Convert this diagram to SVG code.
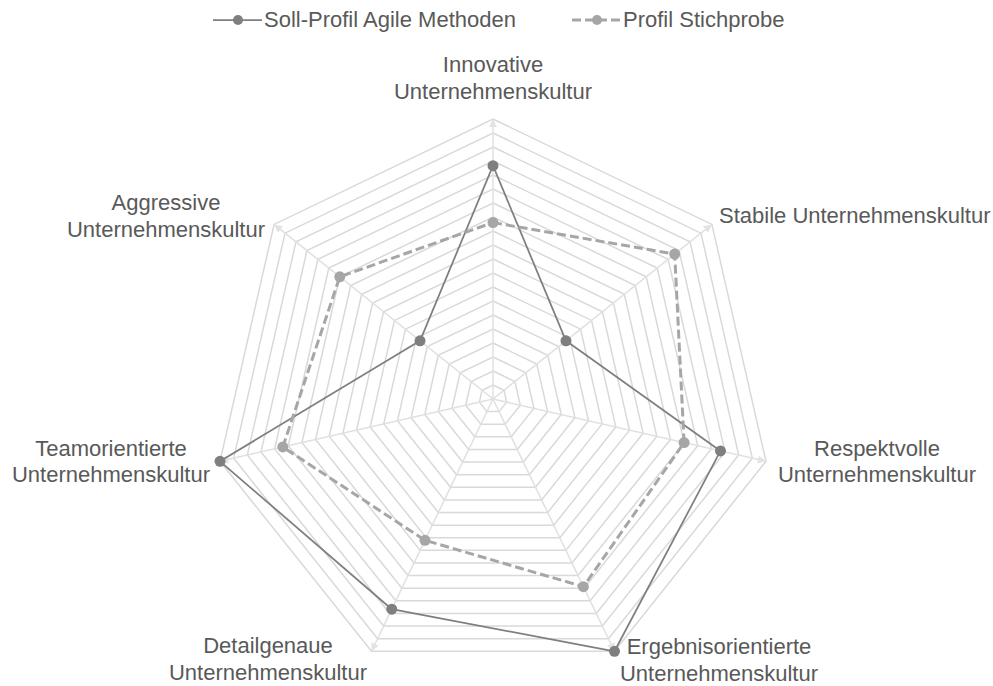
<svg xmlns="http://www.w3.org/2000/svg" xmlns:xlink="http://www.w3.org/1999/xlink" width="993" height="686" viewBox="0 0 993 686">
  <style>
    .lbl { font-family: "Liberation Sans", Arial, sans-serif; font-size: 22px; fill: #595959; }
    .ring { fill: none; stroke: #d9d9d9; stroke-width: 1.5; vector-effect: non-scaling-stroke; }
    .spoke { stroke: #e0e0e0; stroke-width: 1.5; }
    .soll { fill: none; stroke: #7f7f7f; stroke-width: 1.75; stroke-linejoin: round; }
    .soll-dot { fill: #7f7f7f; }
    .probe { fill: none; stroke: #a6a6a6; stroke-width: 3; stroke-dasharray: 9 4; stroke-linejoin: round; }
    .probe-dot { fill: #a6a6a6; }
  </style>
  <defs>
    <!-- outer heptagon, radius 280, centred on the origin -->
    <polygon id="hept" class="ring" points="0,-280 218.913,-174.577 272.980,62.306 121.488,252.271 -121.488,252.271 -272.980,62.306 -218.913,-174.577"/>
    <marker id="tip" viewBox="0 0 10 10" refX="10" refY="5" markerWidth="5.5" markerHeight="5.5" orient="auto" markerUnits="strokeWidth">
      <path d="M0,0 L10,5 L0,10 Z" fill="#e3e3e3"/>
    </marker>
  </defs>
  <rect width="993" height="686" fill="#ffffff"/>

  <!-- legend -->
  <g id="legend">
    <line x1="213" y1="20" x2="262" y2="20" class="soll"/>
    <circle cx="238" cy="20" r="5" class="soll-dot"/>
    <text x="264" y="27" class="lbl">Soll-Profil Agile Methoden</text>
    <line x1="572" y1="20" x2="621" y2="20" class="probe" stroke-dasharray="8 4"/>
    <circle cx="597" cy="20" r="5" class="probe-dot"/>
    <text x="623" y="27" class="lbl">Profil Stichprobe</text>
  </g>

  <!-- radar grid: 20 concentric heptagons -->
  <g id="grid" transform="translate(493 399)">
    <use xlink:href="#hept" transform="scale(0.05)"/>
    <use xlink:href="#hept" transform="scale(0.10)"/>
    <use xlink:href="#hept" transform="scale(0.15)"/>
    <use xlink:href="#hept" transform="scale(0.20)"/>
    <use xlink:href="#hept" transform="scale(0.25)"/>
    <use xlink:href="#hept" transform="scale(0.30)"/>
    <use xlink:href="#hept" transform="scale(0.35)"/>
    <use xlink:href="#hept" transform="scale(0.40)"/>
    <use xlink:href="#hept" transform="scale(0.45)"/>
    <use xlink:href="#hept" transform="scale(0.50)"/>
    <use xlink:href="#hept" transform="scale(0.55)"/>
    <use xlink:href="#hept" transform="scale(0.60)"/>
    <use xlink:href="#hept" transform="scale(0.65)"/>
    <use xlink:href="#hept" transform="scale(0.70)"/>
    <use xlink:href="#hept" transform="scale(0.75)"/>
    <use xlink:href="#hept" transform="scale(0.80)"/>
    <use xlink:href="#hept" transform="scale(0.85)"/>
    <use xlink:href="#hept" transform="scale(0.90)"/>
    <use xlink:href="#hept" transform="scale(0.95)"/>
    <use xlink:href="#hept"/>
    <!-- axes with arrow tips -->
    <line class="spoke" x1="0" y1="0" x2="0" y2="-280" marker-end="url(#tip)"/>
    <line class="spoke" x1="0" y1="0" x2="218.913" y2="-174.577" marker-end="url(#tip)"/>
    <line class="spoke" x1="0" y1="0" x2="272.980" y2="62.306" marker-end="url(#tip)"/>
    <line class="spoke" x1="0" y1="0" x2="121.488" y2="252.271" marker-end="url(#tip)"/>
    <line class="spoke" x1="0" y1="0" x2="-121.488" y2="252.271" marker-end="url(#tip)"/>
    <line class="spoke" x1="0" y1="0" x2="-272.980" y2="62.306" marker-end="url(#tip)"/>
    <line class="spoke" x1="0" y1="0" x2="-218.913" y2="-174.577" marker-end="url(#tip)"/>
  </g>

  <!-- axis labels -->
  <g id="ax-innovative">
    <text x="493" y="72" class="lbl" text-anchor="middle">Innovative</text>
    <text x="493" y="99" class="lbl" text-anchor="middle">Unternehmenskultur</text>
  </g>
  <g id="ax-stabile">
    <text x="719" y="223" class="lbl">Stabile Unternehmenskultur</text>
  </g>
  <g id="ax-respektvolle">
    <text x="877" y="456" class="lbl" text-anchor="middle">Respektvolle</text>
    <text x="877" y="482" class="lbl" text-anchor="middle">Unternehmenskultur</text>
  </g>
  <g id="ax-ergebnis">
    <text x="719" y="654" class="lbl" text-anchor="middle">Ergebnisorientierte</text>
    <text x="719" y="681" class="lbl" text-anchor="middle">Unternehmenskultur</text>
  </g>
  <g id="ax-detail">
    <text x="268" y="653" class="lbl" text-anchor="middle">Detailgenaue</text>
    <text x="268" y="680" class="lbl" text-anchor="middle">Unternehmenskultur</text>
  </g>
  <g id="ax-team">
    <text x="111" y="456" class="lbl" text-anchor="middle">Teamorientierte</text>
    <text x="111" y="482" class="lbl" text-anchor="middle">Unternehmenskultur</text>
  </g>
  <g id="ax-aggressive">
    <text x="166" y="210" class="lbl" text-anchor="middle">Aggressive</text>
    <text x="166" y="237" class="lbl" text-anchor="middle">Unternehmenskultur</text>
  </g>

  <!-- data series -->
  <g id="series">
    <g id="soll-profil">
      <polygon class="soll" points="493,165.7 565.97,340.81 720.48,450.92 614.49,651.27 391.76,609.23 220.02,461.31 420.03,340.81"/>
      <circle class="soll-dot" cx="493" cy="165.7" r="5.5"/>
      <circle class="soll-dot" cx="565.97" cy="340.81" r="5.5"/>
      <circle class="soll-dot" cx="720.48" cy="450.92" r="5.5"/>
      <circle class="soll-dot" cx="614.49" cy="651.27" r="5.5"/>
      <circle class="soll-dot" cx="391.76" cy="609.23" r="5.5"/>
      <circle class="soll-dot" cx="220.02" cy="461.31" r="5.5"/>
      <circle class="soll-dot" cx="420.03" cy="340.81" r="5.5"/>
    </g>
    <g id="profil-stichprobe">
      <polygon class="probe" points="493,222.6 674.70,254.10 684.09,442.61 583.38,586.67 424.97,540.27 282.81,446.98 339.76,276.80"/>
      <circle class="probe-dot" cx="493" cy="222.6" r="5.5"/>
      <circle class="probe-dot" cx="674.70" cy="254.10" r="5.5"/>
      <circle class="probe-dot" cx="684.09" cy="442.61" r="5.5"/>
      <circle class="probe-dot" cx="583.38" cy="586.67" r="5.5"/>
      <circle class="probe-dot" cx="424.97" cy="540.27" r="5.5"/>
      <circle class="probe-dot" cx="282.81" cy="446.98" r="5.5"/>
      <circle class="probe-dot" cx="339.76" cy="276.80" r="5.5"/>
    </g>
  </g>
</svg>
